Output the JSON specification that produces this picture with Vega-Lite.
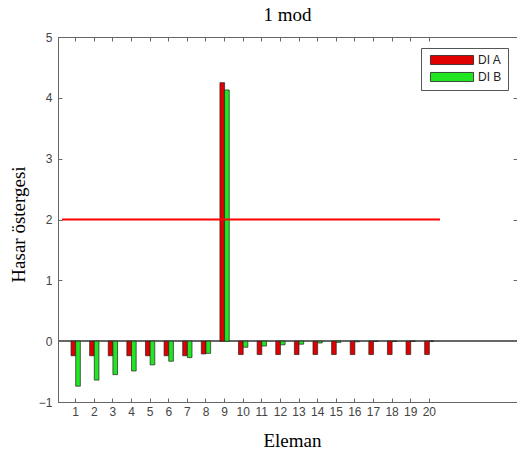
{
  "$schema": "https://vega.github.io/schema/vega-lite/v6.json",
  "autosize": "none",
  "width": 459,
  "height": 365,
  "padding": {"left": 58, "top": 37, "right": 0, "bottom": 57},
  "background": "white",
  "title": {"text": "1 mod", "font": "Liberation Serif", "fontSize": 19, "fontWeight": "normal", "color": "#000", "offset": 6},
  "config": {
    "view": {"stroke": "#666", "strokeWidth": 1},
    "axis": {"labelFont": "Liberation Sans", "labelFontSize": 12, "labelColor": "#444", "titleFont": "Liberation Serif", "titleFontSize": 19, "titleFontWeight": "normal", "titleColor": "#000", "domainColor": "#666", "tickColor": "#666", "grid": false}
  },
  "datasets": {
    "bars": [
      {"e": "1", "s": "DI A", "v": -0.24}, {"e": "1", "s": "DI B", "v": -0.74},
      {"e": "2", "s": "DI A", "v": -0.24}, {"e": "2", "s": "DI B", "v": -0.64},
      {"e": "3", "s": "DI A", "v": -0.24}, {"e": "3", "s": "DI B", "v": -0.55},
      {"e": "4", "s": "DI A", "v": -0.24}, {"e": "4", "s": "DI B", "v": -0.49},
      {"e": "5", "s": "DI A", "v": -0.24}, {"e": "5", "s": "DI B", "v": -0.39},
      {"e": "6", "s": "DI A", "v": -0.24}, {"e": "6", "s": "DI B", "v": -0.33},
      {"e": "7", "s": "DI A", "v": -0.24}, {"e": "7", "s": "DI B", "v": -0.27},
      {"e": "8", "s": "DI A", "v": -0.21}, {"e": "8", "s": "DI B", "v": -0.2},
      {"e": "9", "s": "DI A", "v": 4.25}, {"e": "9", "s": "DI B", "v": 4.13},
      {"e": "10", "s": "DI A", "v": -0.22}, {"e": "10", "s": "DI B", "v": -0.1},
      {"e": "11", "s": "DI A", "v": -0.22}, {"e": "11", "s": "DI B", "v": -0.08},
      {"e": "12", "s": "DI A", "v": -0.22}, {"e": "12", "s": "DI B", "v": -0.06},
      {"e": "13", "s": "DI A", "v": -0.22}, {"e": "13", "s": "DI B", "v": -0.05},
      {"e": "14", "s": "DI A", "v": -0.22}, {"e": "14", "s": "DI B", "v": -0.03},
      {"e": "15", "s": "DI A", "v": -0.22}, {"e": "15", "s": "DI B", "v": -0.02},
      {"e": "16", "s": "DI A", "v": -0.22}, {"e": "16", "s": "DI B", "v": -0.01},
      {"e": "17", "s": "DI A", "v": -0.22}, {"e": "17", "s": "DI B", "v": -0.005},
      {"e": "18", "s": "DI A", "v": -0.22}, {"e": "18", "s": "DI B", "v": -0.005},
      {"e": "19", "s": "DI A", "v": -0.22}, {"e": "19", "s": "DI B", "v": 0},
      {"e": "20", "s": "DI A", "v": -0.22}, {"e": "20", "s": "DI B", "v": 0}
    ],
    "line": [{"x": 0.215, "x2": 20.54, "y": 2}]
  },
  "layer": [
    {
      "data": {"name": "bars"},
      "mark": {"type": "rule", "color": "#666", "strokeWidth": 1},
      "encoding": {"y": {"datum": 0, "type": "quantitative", "scale": {"domain": [-1, 5], "nice": false, "zero": false}, "axis": null}}
    },
    {
      "data": {"name": "bars"},
      "mark": {"type": "bar", "stroke": "#222", "strokeWidth": 0.7},
      "encoding": {
        "x": {"field": "e", "type": "ordinal", "sort": null,
              "scale": {"paddingInner": 0.5, "paddingOuter": 0.7, "range": [0, 389]},
              "axis": {"title": "Eleman", "labelAngle": 0, "tickSize": -4, "labelPadding": 8, "titlePadding": 14, "titleX": 234, "domain": true}},
        "xOffset": {"field": "s", "type": "nominal"},
        "y": {"field": "v", "type": "quantitative",
              "scale": {"domain": [-1, 5], "nice": false, "zero": false},
              "axis": {"orient": "left", "title": "Hasar östergesi", "format": "d", "values": [-1, 0, 1, 2, 3, 4, 5], "tickSize": -4, "labelPadding": 10, "titlePadding": 10, "titleY": 187}},
        "color": {"field": "s", "type": "nominal",
                  "scale": {"domain": ["DI A", "DI B"], "range": ["#e00000", "#22e622"]},
                  "legend": {"title": null, "orient": "none", "legendX": 363, "legendY": 11,
                             "strokeColor": "#555", "fillColor": "white", "padding": 6,
                             "symbolType": "M-4,-0.84H4V0.84H-4Z", "symbolSize": 116, "symbolOffset": 19, "symbolStrokeColor": "#222", "symbolStrokeWidth": 0.8,
                             "labelFont": "Liberation Sans", "labelFontSize": 12, "labelColor": "#222", "labelOffset": 20, "rowPadding": 3}}
      }
    },
    {
      "data": {"name": "bars"},
      "mark": {"type": "tick", "opacity": 0},
      "encoding": {
        "x": {"field": "e", "type": "ordinal", "sort": null,
              "scale": {"paddingInner": 0.5, "paddingOuter": 0.7, "range": [0, 389]},
              "axis": {"orient": "top", "title": null, "labels": false, "tickSize": -4, "domain": false}}
      }
    },
    {
      "data": {"name": "line"},
      "mark": {"type": "rule", "color": "#ff0000", "strokeWidth": 2},
      "encoding": {
        "x": {"field": "x", "type": "quantitative", "scale": {"domain": [0, 24.68], "nice": false, "zero": false}, "axis": null},
        "x2": {"field": "x2"},
        "y": {"field": "y", "type": "quantitative", "scale": {"domain": [-1, 5], "nice": false, "zero": false},
              "axis": {"orient": "right", "title": null, "labels": false, "values": [-1, 0, 1, 2, 3, 4, 5], "tickSize": -4, "domain": false}}
      }
    }
  ],
  "resolve": {"scale": {"x": "independent"}, "axis": {"x": "independent", "y": "independent"}}
}
